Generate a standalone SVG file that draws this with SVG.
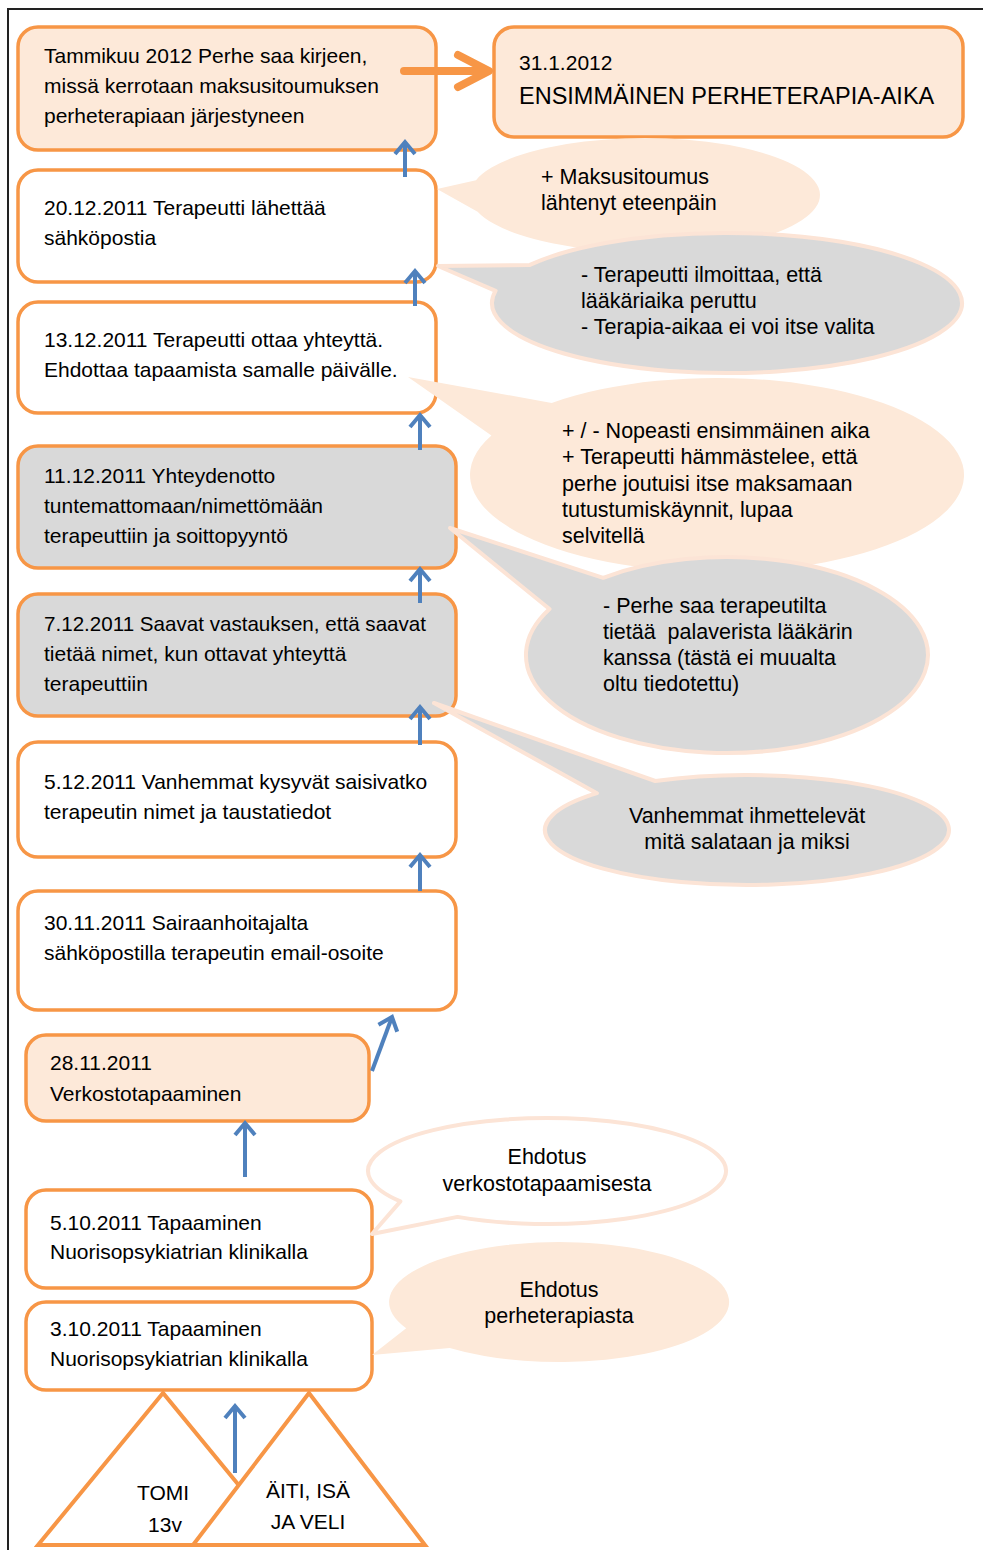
<svg xmlns="http://www.w3.org/2000/svg" width="983" height="1550" viewBox="0 0 983 1550">
<style>
text{font-family:"Liberation Sans",Arial,sans-serif;font-size:21px;fill:#000}
.box{stroke:#F79646;stroke-width:3.5}
.w{fill:#fff}.p{fill:#FDE9D9}.g{fill:#D9D9D9}
.cp{fill:#FDE9D9;stroke:none}
.cg{fill:#D9D9D9;stroke:#FCE4D6;stroke-width:4;stroke-linejoin:round}
.cw{fill:#fff;stroke:#FCE4D6;stroke-width:4;stroke-linejoin:round}
.tri{fill:#fff;stroke:#F79646;stroke-width:4;stroke-linejoin:miter}
.arr{stroke:#4F81BD;stroke-width:4;fill:none;marker-end:url(#ah)}
.mid{text-anchor:middle}
.ct{font-size:21.5px}
</style>
<defs>
<marker id="ah" markerUnits="userSpaceOnUse" markerWidth="26" markerHeight="26" refX="15" refY="12" orient="auto">
<path d="M3,2 L15,12 L3,22" fill="none" stroke="#4F81BD" stroke-width="4"/>
</marker>
</defs>
<g id="frame" fill="none" stroke="#222" stroke-width="2">
<path d="M8,1550 V9 H983"/>
</g>
<g id="n1"><rect class="box p" x="18" y="27" width="418" height="123" rx="20"/>
<text x="44" y="63">Tammikuu 2012 Perhe saa kirjeen,</text>
<text x="44" y="93">missä kerrotaan maksusitoumuksen</text>
<text x="44" y="123">perheterapiaan järjestyneen</text></g>
<g id="n2"><rect class="box p" x="494" y="27" width="469" height="110" rx="20"/>
<text x="519" y="70">31.1.2012</text>
<text x="519" y="104" style="font-size:23.5px">ENSIMMÄINEN PERHETERAPIA-AIKA</text></g>
<g id="n3"><rect class="box w" x="18" y="170" width="418" height="112" rx="20"/>
<text x="44" y="215">20.12.2011 Terapeutti lähettää</text>
<text x="44" y="245">sähköpostia</text></g>
<g id="n4"><rect class="box w" x="18" y="302" width="418" height="111" rx="20"/>
<text x="44" y="347">13.12.2011 Terapeutti ottaa yhteyttä.</text>
<text x="44" y="377">Ehdottaa tapaamista samalle päivälle.</text></g>
<g id="n5"><rect class="box g" x="18" y="446" width="438" height="122" rx="20"/>
<text x="44" y="483">11.12.2011 Yhteydenotto</text>
<text x="44" y="513">tuntemattomaan/nimettömään</text>
<text x="44" y="543">terapeuttiin ja soittopyyntö</text></g>
<g id="n6"><rect class="box g" x="18" y="594" width="438" height="122" rx="20"/>
<text x="44" y="631" style="font-size:20.6px">7.12.2011 Saavat vastauksen, että saavat</text>
<text x="44" y="661">tietää nimet, kun ottavat yhteyttä</text>
<text x="44" y="691">terapeuttiin</text></g>
<g id="n7"><rect class="box w" x="18" y="742" width="438" height="115" rx="20"/>
<text x="44" y="789">5.12.2011 Vanhemmat kysyvät saisivatko</text>
<text x="44" y="819">terapeutin nimet ja taustatiedot</text></g>
<g id="n8"><rect class="box w" x="18" y="891" width="438" height="119" rx="20"/>
<text x="44" y="930">30.11.2011 Sairaanhoitajalta</text>
<text x="44" y="960">sähköpostilla terapeutin email-osoite</text></g>
<g id="n9"><rect class="box p" x="26" y="1035" width="343" height="86" rx="20"/>
<text x="50" y="1070">28.11.2011</text>
<text x="50" y="1101">Verkostotapaaminen</text></g>
<g id="n10"><rect class="box w" x="26" y="1190" width="346" height="98" rx="20"/>
<text x="50" y="1230">5.10.2011 Tapaaminen</text>
<text x="50" y="1259">Nuorisopsykiatrian klinikalla</text></g>
<g id="n11"><rect class="box w" x="26" y="1302" width="346" height="88" rx="20"/>
<text x="50" y="1336">3.10.2011 Tapaaminen</text>
<text x="50" y="1366">Nuorisopsykiatrian klinikalla</text></g>
<g id="tomi"><polygon class="tri" points="163,1393 38,1545 288,1545"/>
<text class="mid" x="163" y="1500">TOMI</text>
<text class="mid" x="165" y="1532">13v</text></g>
<g id="perhe"><polygon class="tri" points="309,1393 193,1545 425,1545"/>
<text class="mid" x="308" y="1498">ÄITI, ISÄ</text>
<text class="mid" x="308" y="1529">JA VELI</text></g>
<g id="cA"><path class="cp" d="M476,180.2 L437,189 L477.6,211.7 A175,57 0 1 0 476,180.2 Z"/>
<text class="ct" x="541" y="184">+ Maksusitoumus</text>
<text class="ct" x="541" y="210">lähtenyt eteenpäin</text></g>
<g id="cB"><path class="cg" d="M529.9,264.9 L438,266 L495.6,290.8 A235,70 0 1 0 529.9,264.9 Z"/>
<text class="ct" x="581" y="282">- Terapeutti ilmoittaa, että</text>
<text class="ct" x="581" y="308">lääkäriaika peruttu</text>
<text class="ct" x="581" y="334">- Terapia-aikaa ei voi itse valita</text></g>
<g id="cC"><path class="cp" d="M551.7,402.9 L408,377 L491.4,435.5 A247,97 0 1 0 551.7,402.9 Z"/>
<text class="ct" x="562" y="438">+ / - Nopeasti ensimmäinen aika</text>
<text class="ct" x="562" y="464">+ Terapeutti hämmästelee, että</text>
<text class="ct" x="562" y="491">perhe joutuisi itse maksamaan</text>
<text class="ct" x="562" y="517">tutustumiskäynnit, lupaa</text>
<text class="ct" x="562" y="543">selvitellä</text></g>
<g id="cD"><path class="cg" d="M603.2,577.8 L450,528 L549.5,609 A201,98 0 1 0 603.2,577.8 Z"/>
<text class="ct" x="603" y="613">- Perhe saa terapeutilta</text>
<text class="ct" x="603" y="639" xml:space="preserve">tietää  palaverista lääkärin</text>
<text class="ct" x="603" y="665">kanssa (tästä ei muualta</text>
<text class="ct" x="603" y="691">oltu tiedotettu)</text></g>
<g id="cE"><path class="cg" d="M655.3,781 L434,703 L596.9,793.2 A202,55 0 1 0 655.3,781 Z"/>
<text class="ct mid" x="747" y="823">Vanhemmat ihmettelevät</text>
<text class="ct mid" x="747" y="849">mitä salataan ja miksi</text></g>
<g id="cF"><path class="cw" d="M400.4,1201.4 L372,1234 L457.5,1216.9 A179,53 0 1 0 400.4,1201.4 Z"/>
<text class="ct mid" x="547" y="1164">Ehdotus</text>
<text class="ct mid" x="547" y="1191">verkostotapaamisesta</text></g>
<g id="cG"><path class="cp" d="M406.2,1328.3 L372,1355 L449.7,1348 A170,60 0 1 0 406.2,1328.3 Z"/>
<text class="ct mid" x="559" y="1297">Ehdotus</text>
<text class="ct mid" x="559" y="1323">perheterapiasta</text></g>
<g id="connectors">
<path d="M404,71 H488 M458,55 L489,71 L458,87" fill="none" stroke="#F79646" stroke-width="8" stroke-linecap="round" stroke-linejoin="round"/>
<path class="arr" d="M405,177 V142"/>
<path class="arr" d="M415,306 V271"/>
<path class="arr" d="M420,450 V415"/>
<path class="arr" d="M420,603 V569"/>
<path class="arr" d="M420,745 V707"/>
<path class="arr" d="M420,891 V855"/>
<path class="arr" d="M372,1071 L392,1017"/>
<path class="arr" d="M245,1177 V1123"/>
<path class="arr" d="M235,1473 V1406"/>
</g>
</svg>
